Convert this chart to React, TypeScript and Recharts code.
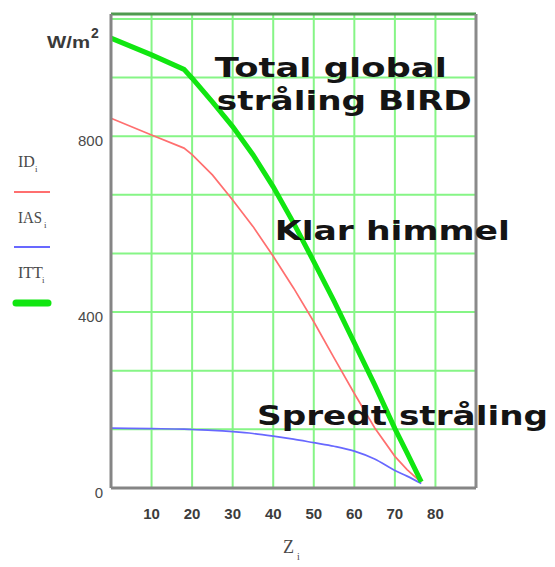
import {
  CartesianGrid,
  Line,
  LineChart,
  ReferenceDot,
  ReferenceLine,
  XAxis,
  YAxis,
} from "recharts";

// zenith angle (deg)
const zValues = [0, 10, 18, 20, 25, 30, 35, 40, 45, 50, 55, 60, 65, 70, 73, 76.5];
// direct irradiance, clear sky
const idValues = [841, 803, 773, 758, 712, 655, 595, 527, 455, 378, 296, 215, 137, 72, 42, 13];
// diffuse irradiance
const iasValues = [136, 135, 134, 133, 131, 128, 124, 118, 111, 103, 95, 84, 66, 40, 27, 10];
// total global irradiance (BIRD)
const ittValues = [1023, 985, 952, 932, 878, 822, 758, 685, 603, 515, 425, 330, 235, 135, 80, 14];

const xTicks = [0, 10, 20, 30, 40, 50, 60, 70, 80, 90];
const xLabelled = [10, 20, 30, 40, 50, 60, 70, 80];
const yTicks = [0, 400 / 3, 800 / 3, 400, 1600 / 3, 2000 / 3, 800, 2800 / 3, 3200 / 3];
const yLabelled = [0, 400, 800];
const yMax = 1078;
const xMax = 90;

const annotations = [
  { z: 25.6, v: 934, text: "Total global", width: 232 },
  { z: 26.1, v: 859, text: "stråling BIRD", width: 255 },
  { z: 40.4, v: 565, text: "Klar himmel", width: 235 },
  { z: 36.0, v: 144, text: "Spredt stråling", width: 291 },
];

const data = zValues.map((z, i) => ({
  z,
  id: idValues[i],
  ias: iasValues[i],
  itt: ittValues[i],
}));

const XTick = ({ x, y, payload }: any) =>
  xLabelled.includes(payload.value) ? (
    <text
      x={x}
      y={y + 23}
      textAnchor="middle"
      fontFamily="Liberation Sans, Arial, sans-serif"
      fontWeight="bold"
      fontSize={15}
      fill="#3c3c3c"
    >
      {payload.value}
    </text>
  ) : null;

const YTick = ({ x, y, payload }: any) =>
  yLabelled.includes(Math.round(payload.value)) ? (
    <text
      x={x}
      y={y + 10}
      textAnchor="end"
      fontFamily="Liberation Sans, Arial, sans-serif"
      fontSize={15}
      fill="#4a4a4a"
    >
      {Math.round(payload.value)}
    </text>
  ) : null;

const annotationLabel = (text: string, width: number) => (props: any) => {
  const { x, y } = props.viewBox;
  return (
    <text
      x={x}
      y={y}
      fontFamily="DejaVu Sans, Verdana, sans-serif"
      fontWeight="bold"
      fontSize={27}
      fill="#141414"
      textLength={width}
      lengthAdjust="spacingAndGlyphs"
    >
      {text}
    </text>
  );
};

const serif = "Liberation Serif, Times New Roman, serif";

export default function App() {
  return (
    <div style={{ position: "absolute", left: 0, top: 0, width: 555, height: 567, background: "#fff" }}>
      <LineChart
        width={555}
        height={567}
        data={data}
        margin={{ top: 14, right: 79, bottom: 0, left: 0 }}
      >
        <CartesianGrid stroke="#86f586" strokeWidth={2} />
        <XAxis
          dataKey="z"
          type="number"
          domain={[0, xMax]}
          ticks={xTicks}
          height={79}
          tickLine={false}
          tick={XTick}
          axisLine={{ stroke: "#858585", strokeWidth: 3 }}
        />
        <YAxis
          type="number"
          domain={[0, yMax]}
          ticks={yTicks}
          width={111}
          tickLine={false}
          tick={YTick}
          axisLine={{ stroke: "#858585", strokeWidth: 3 }}
        />
        <ReferenceLine y={yMax} stroke="#4f9a4f" strokeWidth={3} />
        <ReferenceLine x={xMax} stroke="#8a8a8a" strokeWidth={3} />
        <Line
          dataKey="id"
          type="linear"
          stroke="#ff6f6f"
          strokeWidth={1.7}
          dot={false}
          isAnimationActive={false}
        />
        <Line
          dataKey="ias"
          type="monotone"
          stroke="#6868ff"
          strokeWidth={1.7}
          dot={false}
          isAnimationActive={false}
        />
        <Line
          dataKey="itt"
          type="linear"
          stroke="#11e611"
          strokeWidth={5}
          dot={false}
          isAnimationActive={false}
        />
        {annotations.map((a) => (
          <ReferenceDot
            key={a.text}
            x={a.z}
            y={a.v}
            r={0}
            fill="none"
            stroke="none"
            label={annotationLabel(a.text, a.width)}
          />
        ))}
      </LineChart>
      <svg
        width={555}
        height={567}
        style={{ position: "absolute", left: 0, top: 0, pointerEvents: "none" }}
      >
        <text x={47} y={48} fontFamily="Liberation Sans, Arial, sans-serif" fontWeight="bold" fontSize={17} fill="#3a3a3a" textLength={43} lengthAdjust="spacingAndGlyphs">
          W/m
        </text>
        <text x={91} y={38} fontFamily="Liberation Sans, Arial, sans-serif" fontWeight="bold" fontSize={14} fill="#3a3a3a">
          2
        </text>
        <g fontFamily={serif} fill="#4a4a4a">
          <text x={18} y={167} fontSize={16}>ID</text>
          <text x={35} y={172} fontSize={9}>i</text>
          <text x={18} y={223} fontSize={16} textLength={24} lengthAdjust="spacingAndGlyphs">IAS</text>
          <text x={44} y={228} fontSize={9}>i</text>
          <text x={18} y={278} fontSize={16}>ITT</text>
          <text x={42} y={283} fontSize={9}>i</text>
          <text x={283} y={553} fontSize={18}>Z</text>
          <text x={297} y={560} fontSize={10}>i</text>
        </g>
        <line x1={14} x2={50} y1={192} y2={192} stroke="#ff6f6f" strokeWidth={2} />
        <line x1={14} x2={50} y1={247} y2={247} stroke="#6868ff" strokeWidth={2} />
        <line x1={16} x2={48} y1={303} y2={303} stroke="#11e611" strokeWidth={7} strokeLinecap="round" />
      </svg>
    </div>
  );
}
